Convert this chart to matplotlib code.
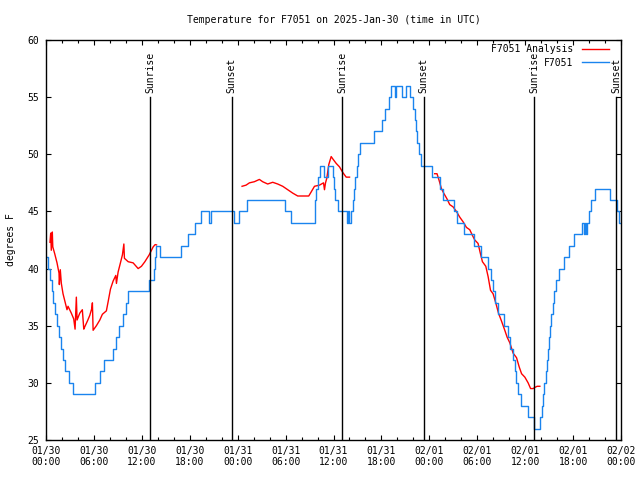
import matplotlib
matplotlib.use("Agg")
import matplotlib.pyplot as plt
from matplotlib.ticker import MultipleLocator, FixedLocator

plt.rcParams['font.family'] = ['DejaVu Sans Mono']

title = "Temperature for F7051 on 2025-Jan-30 (time in UTC)"
ylabel = "degrees F"

# hours since 01/30 00:00 UTC
obs_hours = [0.06, 0.31, 0.50, 0.69, 0.88, 1.13, 1.38, 1.63, 1.82, 2.07, 2.38, 2.82, 3.39,
             6.15, 6.71, 7.21, 8.34, 8.72, 9.16, 9.60, 9.97, 10.29, 12.86, 13.55, 13.64, 13.74,
             14.30, 16.87, 17.81, 18.63, 19.38, 20.38, 20.63, 23.58, 24.15, 25.15, 29.98, 30.73,
             33.68, 33.74, 33.87, 34.06, 34.31, 34.87, 35.25, 35.94, 36.06, 36.25, 36.56, 37.63,
             37.84, 37.95, 38.13, 38.38, 38.57, 38.70, 38.89, 39.07, 39.26, 41.08, 42.09, 42.46,
             42.90, 43.15, 43.65, 43.78, 44.59, 45.03, 45.60, 45.97, 46.22, 46.35, 46.47, 46.66,
             46.98, 48.36, 49.36, 49.74, 51.05, 51.43, 52.37, 53.63, 54.44, 55.38, 55.76, 56.01,
             56.26, 56.64, 57.33, 57.83, 58.14, 58.45, 58.77, 58.89, 59.14, 59.46, 60.34, 61.09,
             61.84, 62.09, 62.25, 62.41, 62.57, 62.72, 62.85, 63.01, 63.10, 63.22, 63.47, 63.66,
             63.91, 64.29, 64.91, 65.48, 66.17, 67.17, 67.34, 67.49, 67.59, 67.80, 68.05, 68.30,
             68.80, 70.68, 71.50, 71.75, 72.00]
obs_temps = [41, 40, 39, 38, 37, 36, 35, 34, 33, 32, 31, 30, 29,
             30, 31, 32, 33, 34, 35, 36, 37, 38, 39, 40, 41, 42,
             41, 42, 43, 44, 45, 44, 45, 44, 45, 46, 45, 44,
             45, 46, 47, 48, 49, 48, 49, 48, 47, 46, 45, 44,
             45, 44, 45, 46, 47, 48, 49, 50, 51, 52, 53, 54,
             55, 56, 55, 56, 55, 56, 55, 54, 53, 52, 51, 50,
             49, 48, 47, 46, 45, 44, 43, 42, 41, 40, 39, 38,
             37, 36, 35, 34, 33, 32, 31, 30, 29, 28, 27, 26,
             27, 28, 29, 30, 31, 32, 33, 34, 35, 36, 37, 38,
             39, 40, 41, 42, 43, 44, 43, 44, 43, 44, 45, 46,
             47, 46, 45, 44, 44]

ana1_hours = [0.50, 0.59, 0.66, 0.79, 0.85, 1.09, 1.38, 1.63, 1.67, 1.79, 1.92, 2.13, 2.38, 2.63,
              2.76, 3.17, 3.47, 3.64, 3.80, 3.89, 4.23, 4.55, 4.73, 4.85, 5.18, 5.48, 5.73, 5.81,
              5.90, 6.31, 6.74, 7.06, 7.56, 7.78, 8.07, 8.40, 8.74, 8.82, 9.03, 9.32, 9.57, 9.75,
              9.82, 10.29, 10.91, 11.54, 11.95, 12.38, 12.92, 13.42, 13.67, 13.84]
ana1_temps = [42.3, 43.1, 41.6, 43.2, 41.9, 41.3, 40.5, 39.6, 38.6, 39.9, 38.7, 37.8, 37.1, 36.4,
              36.7, 36.1, 35.6, 34.7, 37.5, 35.5, 36.1, 36.4, 34.7, 34.9, 35.4, 35.9, 36.5, 37.0,
              34.6, 35.0, 35.5, 36.0, 36.3, 37.1, 38.2, 38.9, 39.4, 38.7, 39.7, 40.5, 41.2, 42.15,
              40.9, 40.6, 40.5, 40.0, 40.2, 40.6, 41.2, 41.9, 42.1, 42.07]

ana2_hours = [24.55, 25.05, 25.47, 26.09, 26.72, 27.13, 27.76, 28.39, 29.01, 29.64, 30.27, 30.90,
              31.52, 32.15, 32.90, 33.20, 33.62, 34.24, 34.75, 34.87, 35.00, 35.16, 35.41, 35.71,
              35.91, 36.34, 36.75, 37.17, 37.59, 38.01]
ana2_temps = [47.2, 47.3, 47.5, 47.6, 47.8, 47.6, 47.4, 47.55, 47.4, 47.2, 46.9, 46.6,
              46.35, 46.35, 46.35, 46.7, 47.2, 47.3, 47.5, 46.9, 47.5, 47.9, 49.1, 49.8,
              49.6, 49.2, 48.9, 48.4, 48.0, 48.0]

ana3_hours = [48.67, 48.96, 49.21, 49.51, 49.80, 50.21, 50.55, 50.97, 51.39, 51.81, 52.22, 52.65,
              53.06, 53.40, 53.69, 54.10, 54.40, 54.65, 55.07, 55.36, 55.66, 55.98, 56.32, 56.66,
              57.04, 57.45, 57.74, 58.08, 58.49, 58.92, 59.25, 59.55, 59.96, 60.37, 60.68, 61.00,
              61.21, 61.50, 61.84]
ana3_temps = [48.3, 48.3, 47.75, 47.0, 46.6, 46.1, 45.6, 45.4, 45.0, 44.5, 44.1, 43.6,
              43.4, 42.9, 42.5, 42.2, 41.3, 40.6, 40.2, 39.3, 38.1, 37.8, 37.0, 36.1,
              35.4, 34.6, 34.0, 33.5, 32.6, 32.2, 31.4, 30.8, 30.5, 30.0, 29.5, 29.5,
              29.6, 29.7, 29.7]

sun_hours = [13.07, 23.25, 37.12, 47.30, 61.10, 71.38]
sun_labels = ["Sunrise", "Sunset", "Sunrise", "Sunset", "Sunrise", "Sunset"]

xtick_hours = [0, 6, 12, 18, 24, 30, 36, 42, 48, 54, 60, 66, 72]
xtick_labels = ["01/30\n00:00", "01/30\n06:00", "01/30\n12:00", "01/30\n18:00",
                "01/31\n00:00", "01/31\n06:00", "01/31\n12:00", "01/31\n18:00",
                "02/01\n00:00", "02/01\n06:00", "02/01\n12:00", "02/01\n18:00",
                "02/02\n00:00"]

RED = '#ff0000'
BLUE = '#1a84ee'
FS = 7

fig = plt.figure(figsize=(6.4, 4.8), dpi=100)
ax = fig.add_axes([46/640, 40/480, 575/640, 400/480])

ax.plot(ana1_hours, ana1_temps, color=RED, lw=1.0, label="F7051 Analysis")
ax.plot(ana2_hours, ana2_temps, color=RED, lw=1.0)
ax.plot(ana3_hours, ana3_temps, color=RED, lw=1.0)
ax.plot(obs_hours, obs_temps, color=BLUE, lw=1.0, drawstyle='steps-post', label="F7051")

for h, lab in zip(sun_hours, sun_labels):
    ax.plot([h, h], [25, 55], color='black', lw=1.0)
    ax.text(h, 55.4, lab, rotation=90, ha='center', va='bottom', fontsize=FS)

ax.set_xlim(0, 72)
ax.set_ylim(25, 60)
ax.xaxis.set_major_locator(FixedLocator(xtick_hours))
ax.set_xticklabels(xtick_labels)
ax.xaxis.set_minor_locator(MultipleLocator(2))
ax.yaxis.set_major_locator(MultipleLocator(5))
ax.tick_params(which='both', direction='in', top=True, right=True, labelsize=FS, width=0.8)
ax.tick_params(which='major', length=3.5)
ax.tick_params(which='minor', length=2)
ax.tick_params(axis='x', pad=4)
ax.tick_params(axis='y', pad=5)
for s in ax.spines.values():
    s.set_linewidth(1.0)

ax.set_title(title, fontsize=FS, pad=12)
ax.set_ylabel(ylabel, fontsize=FS, labelpad=8)

ax.legend(loc='upper right', frameon=False, markerfirst=False, fontsize=FS,
          handlelength=2.8, handletextpad=0.9, labelspacing=0.4,
          borderpad=0, borderaxespad=0, bbox_to_anchor=(1 - 12/575, 1 - 4/400))

fig.savefig("out.png", dpi=100)
